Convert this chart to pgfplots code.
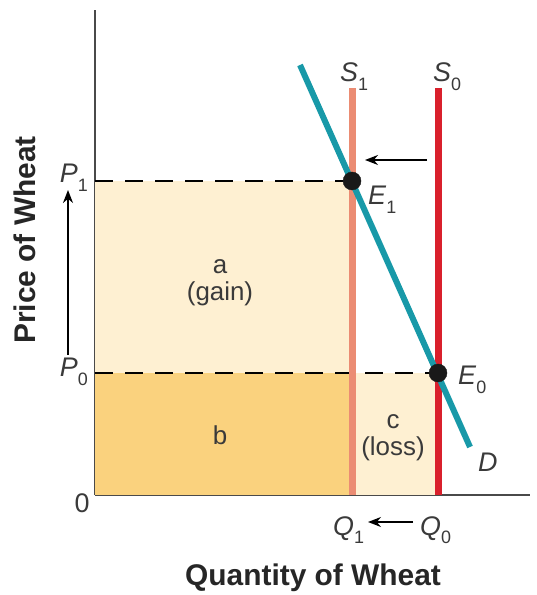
\documentclass[border=0pt]{standalone}
\usepackage{pgfplots}
\pgfplotsset{compat=1.18}
\usepackage{fontspec}
\setmainfont{Liberation Sans}
\usetikzlibrary{arrows.meta}
\definecolor{cream}{HTML}{FEF0D2}
\definecolor{gold}{HTML}{FAD27E}
\definecolor{salmon}{HTML}{EB8C73}
\definecolor{sred}{HTML}{D9202C}
\definecolor{teal}{HTML}{1899A8}
\definecolor{txt}{HTML}{3A3A3A}
\definecolor{axgray}{HTML}{4A4A4A}
\newcommand{\lbl}[2]{\textit{#1}\raisebox{-0.3em}{\fontsize{18}{18}\selectfont #2}}
\tikzset{lab/.style={text=txt, inner sep=0, font=\fontsize{27}{28}\selectfont},
         reg/.style={text=txt, inner sep=0, align=center, font=\fontsize{26}{27}\selectfont},
         ttl/.style={text=black!85, inner sep=0, font=\bfseries\fontsize{30}{32}\selectfont}}
\begin{document}
\begin{tikzpicture}[x=1bp,y=1bp]
\useasboundingbox (-95,-100) rectangle (442,495);
\begin{axis}[
  scale only axis, width=435bp, height=485bp,
  at={(0,0)}, anchor=south west,
  xmin=0, xmax=435, ymin=0, ymax=485,
  axis lines=left,
  axis line style={draw=axgray, line width=2bp, -},
  xtick=\empty, ytick=\empty,
  clip=false,
]
% areas
\addplot[fill=cream, draw=none] coordinates {(0,314) (257,314)} \closedcycle;
\addplot[fill=gold, draw=none] coordinates {(0,122) (257,122)} \closedcycle;
\addplot[fill=cream, draw=none] coordinates {(257,122) (343,122)} \closedcycle;
% dashed price lines
\addplot[black, line width=1.8bp, dash pattern=on 18bp off 12bp] coordinates {(0,314) (257,314)};
\addplot[black, line width=1.8bp, dash pattern=on 18bp off 12bp] coordinates {(0,122) (343,122)};
% supply lines
\addplot[salmon, line width=7bp] coordinates {(257,0) (257,407)};
\addplot[sred, line width=7bp] coordinates {(343,0) (343,407)};
% demand
\addplot[teal, line width=6bp] coordinates {(205,430) (375,48)};
% equilibria
\addplot[only marks, mark=*, mark size=9bp, mark options={fill=black!90, draw=black!90}] coordinates {(257,314) (343,122)};
% arrows
\draw[-{Stealth[length=13bp,width=10bp]}, line width=1.6bp, black] (axis cs:-27,140) -- (axis cs:-27,305);
\draw[-{Stealth[length=13bp,width=10bp]}, line width=1.6bp, black] (axis cs:332,335) -- (axis cs:270,335);
\draw[-{Stealth[length=13bp,width=10bp]}, line width=1.6bp, black] (axis cs:318,-27) -- (axis cs:273,-27);
% labels
\node[lab, anchor=base west] at (axis cs:245,413) {\lbl{S}{1}};
\node[lab, anchor=base west] at (axis cs:338,413) {\lbl{S}{0}};
\node[lab, anchor=base west] at (axis cs:273,290) {\lbl{E}{1}};
\node[lab, anchor=base west] at (axis cs:363,110) {\lbl{E}{0}};
\node[lab, anchor=base west] at (axis cs:383,23) {\textit{D}};
\node[lab, anchor=base east] at (axis cs:-7,312) {\lbl{P}{1}};
\node[lab, anchor=base east] at (axis cs:-7,118) {\lbl{P}{0}};
\node[lab, anchor=base west] at (axis cs:238,-40) {\lbl{Q}{1}};
\node[lab, anchor=base west] at (axis cs:325,-40) {\lbl{Q}{0}};
\node[lab, anchor=center] at (axis cs:-13,-8) {0};
\node[reg] at (axis cs:125,212) {a\\(gain)};
\node[reg] at (axis cs:125,60) {b};
\node[reg] at (axis cs:298,57) {c\\(loss)};
\node[ttl] at (axis cs:218,-83) {Quantity of Wheat};
\node[ttl, rotate=90] at (axis cs:-70,255) {Price of Wheat};
\end{axis}
\end{tikzpicture}
\end{document}
